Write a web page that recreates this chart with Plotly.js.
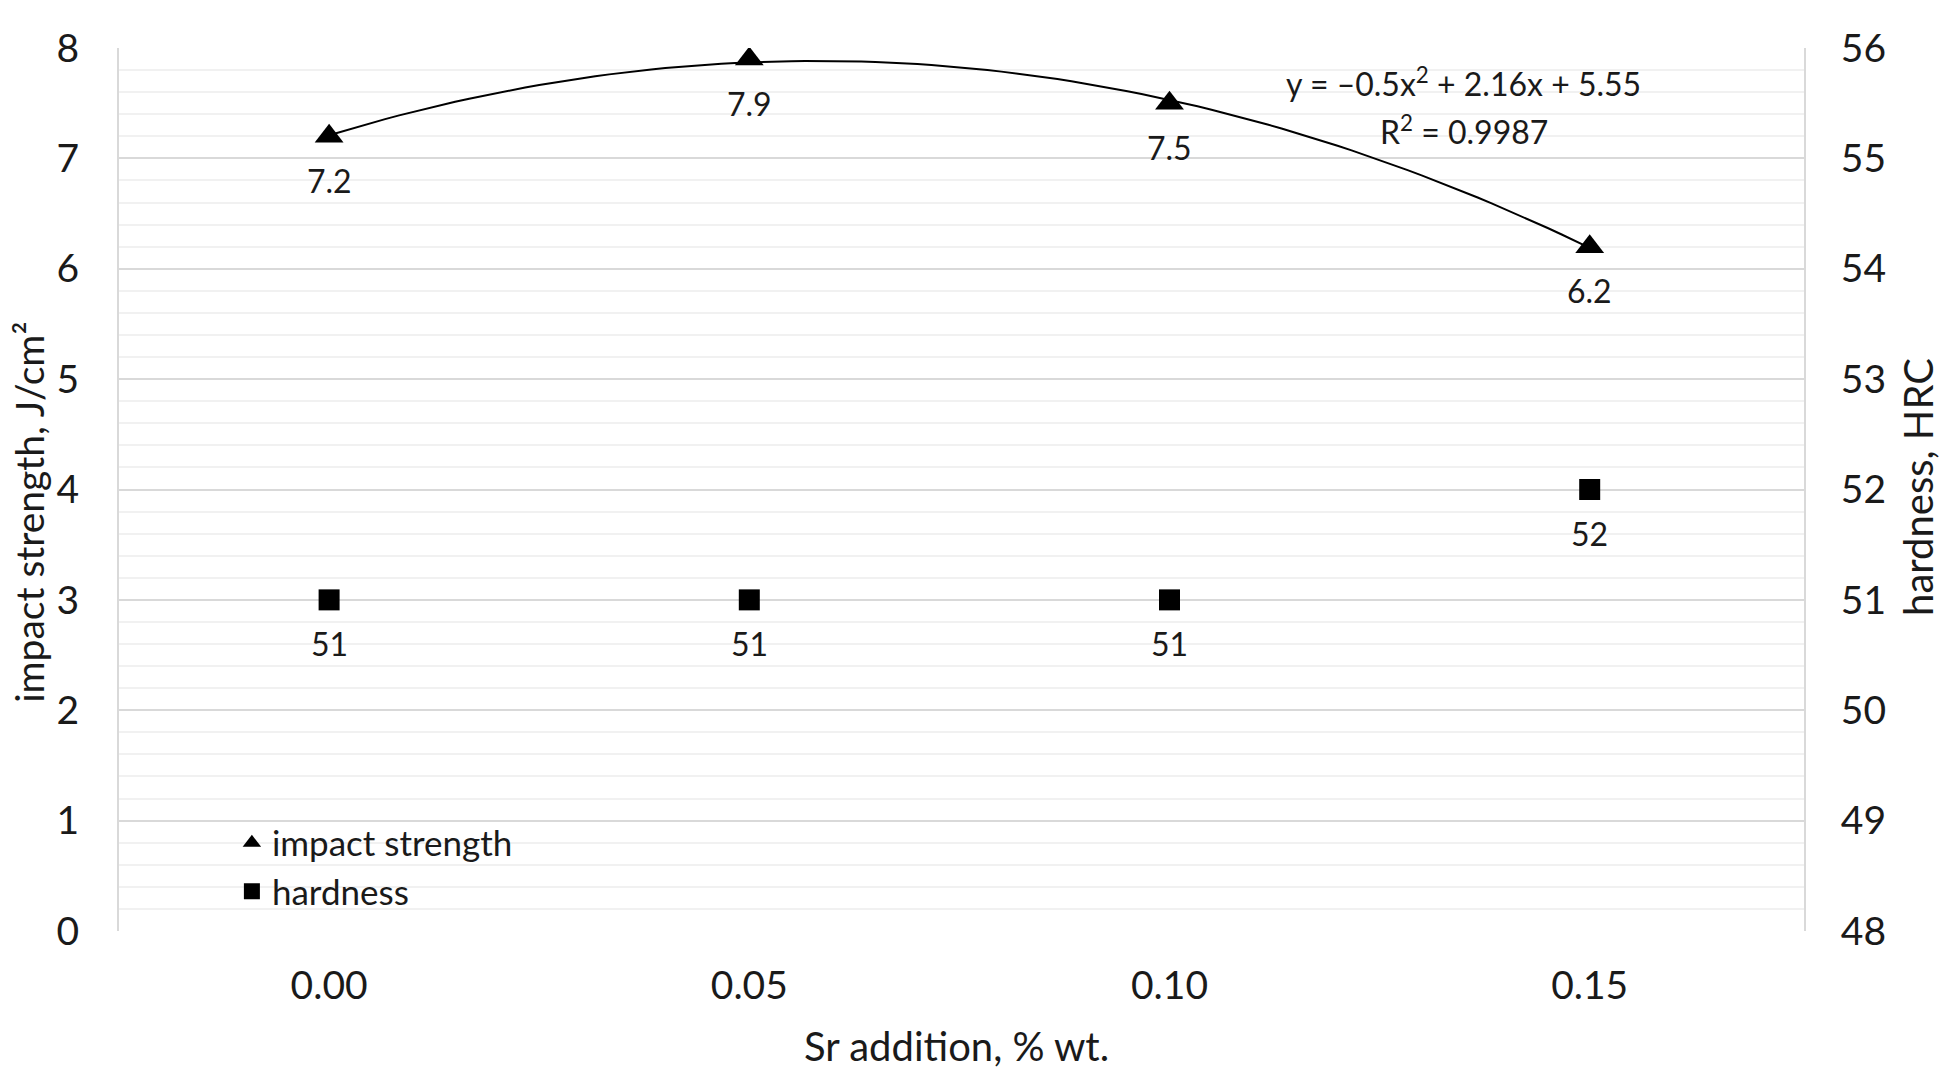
<!DOCTYPE html>
<html>
<head>
<meta charset="utf-8">
<script src="https://cdn.plot.ly/plotly-3.0.1.min.js"></script>
<style>html,body{margin:0;padding:0;background:#fff;}#chart{width:1957px;height:1085px;}</style>
</head>
<body>
<div id="chart"></div>
<script>
// ---- data ----
var srAddition = [0.00, 0.05, 0.10, 0.15];
var xTickLabels = ['0.00', '0.05', '0.10', '0.15'];
var impactStrength = [7.2, 7.9, 7.5, 6.2];
var hardness = [51, 51, 51, 52];
var trendCoef = [-0.5, 2.16, 5.55]; // y = a*n^2 + b*n + c, n = category index 1..4
var leftTicks = [0, 1, 2, 3, 4, 5, 6, 7, 8];
var rightTicks = [48, 49, 50, 51, 52, 53, 54, 55, 56];

var FONT = 'Lato, "Open Sans", sans-serif';
var TXT = '#1a1a1a';

// trendline drawn from the displayed polynomial
var trendX = [], trendY = [];
var step = srAddition[1] - srAddition[0];
for (var k = 0; k <= 90; k++) {
  var n = 1 + 3 * k / 90;
  trendX.push(srAddition[0] + (n - 1) * step);
  trendY.push(trendCoef[0] * n * n + trendCoef[1] * n + trendCoef[2]);
}

var traces = [
  {x: trendX, y: trendY, type: 'scatter', mode: 'lines', line: {color: '#000', width: 2}, showlegend: false, hoverinfo: 'skip'},
  {x: srAddition, y: impactStrength, type: 'scatter', mode: 'markers', name: 'impact strength',
   marker: {symbol: 'triangle-up', size: 25, color: '#000'}},
  {x: srAddition, y: hardness, type: 'scatter', mode: 'markers', name: 'hardness', yaxis: 'y2',
   marker: {symbol: 'square', size: 21, color: '#000'}}
];

var annotations = [];
srAddition.forEach(function (x, i) {
  annotations.push({x: x, y: impactStrength[i], xref: 'x', yref: 'y', text: String(impactStrength[i]),
    showarrow: false, yshift: -44, xanchor: 'center', yanchor: 'middle', font: {family: FONT, size: 32, color: TXT}});
  annotations.push({x: x, y: hardness[i], xref: 'x', yref: 'y2', text: String(hardness[i]),
    showarrow: false, yshift: -44, xanchor: 'center', yanchor: 'middle', font: {family: FONT, size: 32, color: TXT}});
});
annotations.push({xref: 'paper', yref: 'paper', x: 0.798, y: 0.9615, xanchor: 'center', yanchor: 'middle',
  text: 'y = \u20130.5x<sup>2</sup> + 2.16x + 5.55',
  showarrow: false, font: {family: FONT, size: 32, color: TXT}});
annotations.push({xref: 'paper', yref: 'paper', x: 0.798, y: 0.907, xanchor: 'center', yanchor: 'middle',
  text: 'R<sup>2</sup> = 0.9987',
  showarrow: false, font: {family: FONT, size: 32, color: TXT}});
// axis titles
annotations.push({xref: 'paper', yref: 'paper', x: 0.497, y: -0.130, xanchor: 'center', yanchor: 'middle',
  text: 'Sr addition, % wt.', showarrow: false, font: {family: FONT, size: 40, color: TXT}});
annotations.push({xref: 'paper', yref: 'paper', x: -0.0535, y: 0.4745, xanchor: 'center', yanchor: 'middle',
  textangle: -90, text: 'impact strength, J/cm\u00b2', showarrow: false, font: {family: FONT, size: 39, color: TXT}});
annotations.push({xref: 'paper', yref: 'paper', x: 1.0677, y: 0.503, xanchor: 'center', yanchor: 'middle',
  textangle: -90, text: 'hardness, HRC', showarrow: false, font: {family: FONT, size: 40, color: TXT}});

var layout = {
  width: 1957, height: 1085,
  margin: {l: 119, r: 153, t: 48, b: 154},
  paper_bgcolor: '#fff', plot_bgcolor: '#fff',
  font: {family: FONT, color: TXT},
  showlegend: true,
  legend: {x: 0.067, y: 0.133, xanchor: 'left', yanchor: 'top', bgcolor: 'rgba(0,0,0,0)',
    font: {family: FONT, size: 35, color: TXT}, tracegroupgap: 0},
  xaxis: {
    range: [-0.025, 0.1755], tickvals: srAddition, ticktext: xTickLabels,
    showgrid: false, zeroline: false, showline: false, ticks: '',
    ticklabelstandoff: 28,
    tickfont: {family: FONT, size: 39, color: TXT}
  },
  yaxis: {
    range: [0, 8], tickvals: leftTicks, ticktext: leftTicks.map(String),
    showgrid: true, gridcolor: '#d9d9d9', gridwidth: 2, zeroline: false,
    showline: true, linecolor: '#d9d9d9', linewidth: 2, ticks: '',
    minor: {dtick: 0.2, showgrid: true, gridcolor: '#f1f1f1', gridwidth: 2},
    ticklabelstandoff: 30,
    tickfont: {family: FONT, size: 39, color: TXT}
  },
  yaxis2: {
    range: [48, 56], tickvals: rightTicks, ticktext: rightTicks.map(String),
    overlaying: 'y', side: 'right', showgrid: false, zeroline: false,
    showline: true, linecolor: '#d9d9d9', linewidth: 2, ticks: '',
    ticklabelstandoff: 27,
    tickfont: {family: FONT, size: 39, color: TXT}
  },
  annotations: annotations
};

Plotly.newPlot('chart', traces, layout, {displayModeBar: false, staticPlot: true});
</script>
</body>
</html>
